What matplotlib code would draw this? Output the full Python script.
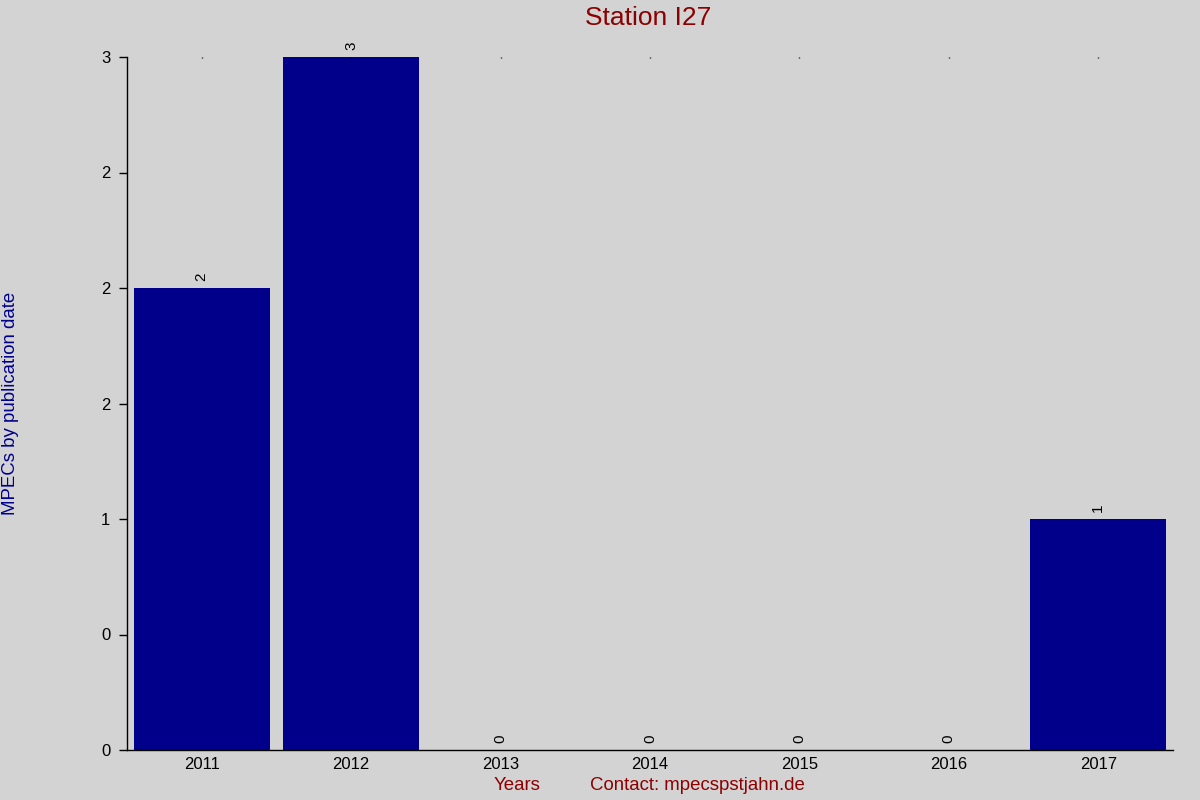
import matplotlib
matplotlib.use("Agg")
import matplotlib.pyplot as plt
from matplotlib.ticker import FuncFormatter, MultipleLocator

BG = "#d3d3d3"
NAVY = "#00008b"
DARKRED = "#8b0000"

years = ["2011", "2012", "2013", "2014", "2015", "2016", "2017"]
counts = [2, 3, 0, 0, 0, 0, 1]

plt.rcParams["font.family"] = ["Liberation Sans", "DejaVu Sans"]

fig = plt.figure(figsize=(12, 8), dpi=100, facecolor=BG)
ax = fig.add_axes([0.1058, 0.0625, 0.8717, 0.86625], facecolor=BG)

x = list(range(len(years)))
ax.bar(x, counts, width=0.91, color=NAVY)

for xi, v in zip(x, counts):
    ax.annotate(str(v), xy=(xi, v), xytext=(0, 5), textcoords="offset points",
                rotation=90, ha="center", va="bottom", fontsize=11, color="black")

ax.set_xlim(-0.5, len(years) - 0.5)
ax.set_ylim(0, 3)
ax.set_xticks(x)
ax.set_xticklabels(years, fontsize=12)
ax.yaxis.set_major_locator(MultipleLocator(0.5))
ax.yaxis.set_major_formatter(FuncFormatter(lambda v, p: f"{v:.0f}"))
ax.tick_params(axis="y", direction="out", length=6, width=1, labelsize=12, pad=6)
ax.tick_params(axis="x", bottom=False, top=True, direction="in", length=1,
               width=1, labelsize=12, pad=5)

for s in ["top", "right"]:
    ax.spines[s].set_visible(False)
for s in ["left", "bottom"]:
    ax.spines[s].set_linewidth(1)
    ax.spines[s].set_color("black")

fig.text(0.54, 0.977, "Station I27", ha="center", va="center",
         fontsize=19, color=DARKRED)
fig.text(0.009, 0.496, "MPECs by publication date", rotation=90,
         ha="center", va="center", fontsize=13.4, color=NAVY)
fig.text(0.431, 0.018, "Years", ha="center", va="center",
         fontsize=13.4, color=DARKRED)
fig.text(0.581, 0.018, "Contact: mpecspstjahn.de", ha="center", va="center",
         fontsize=13.4, color=DARKRED)

fig.savefig("out.png", dpi=100, facecolor=BG)
